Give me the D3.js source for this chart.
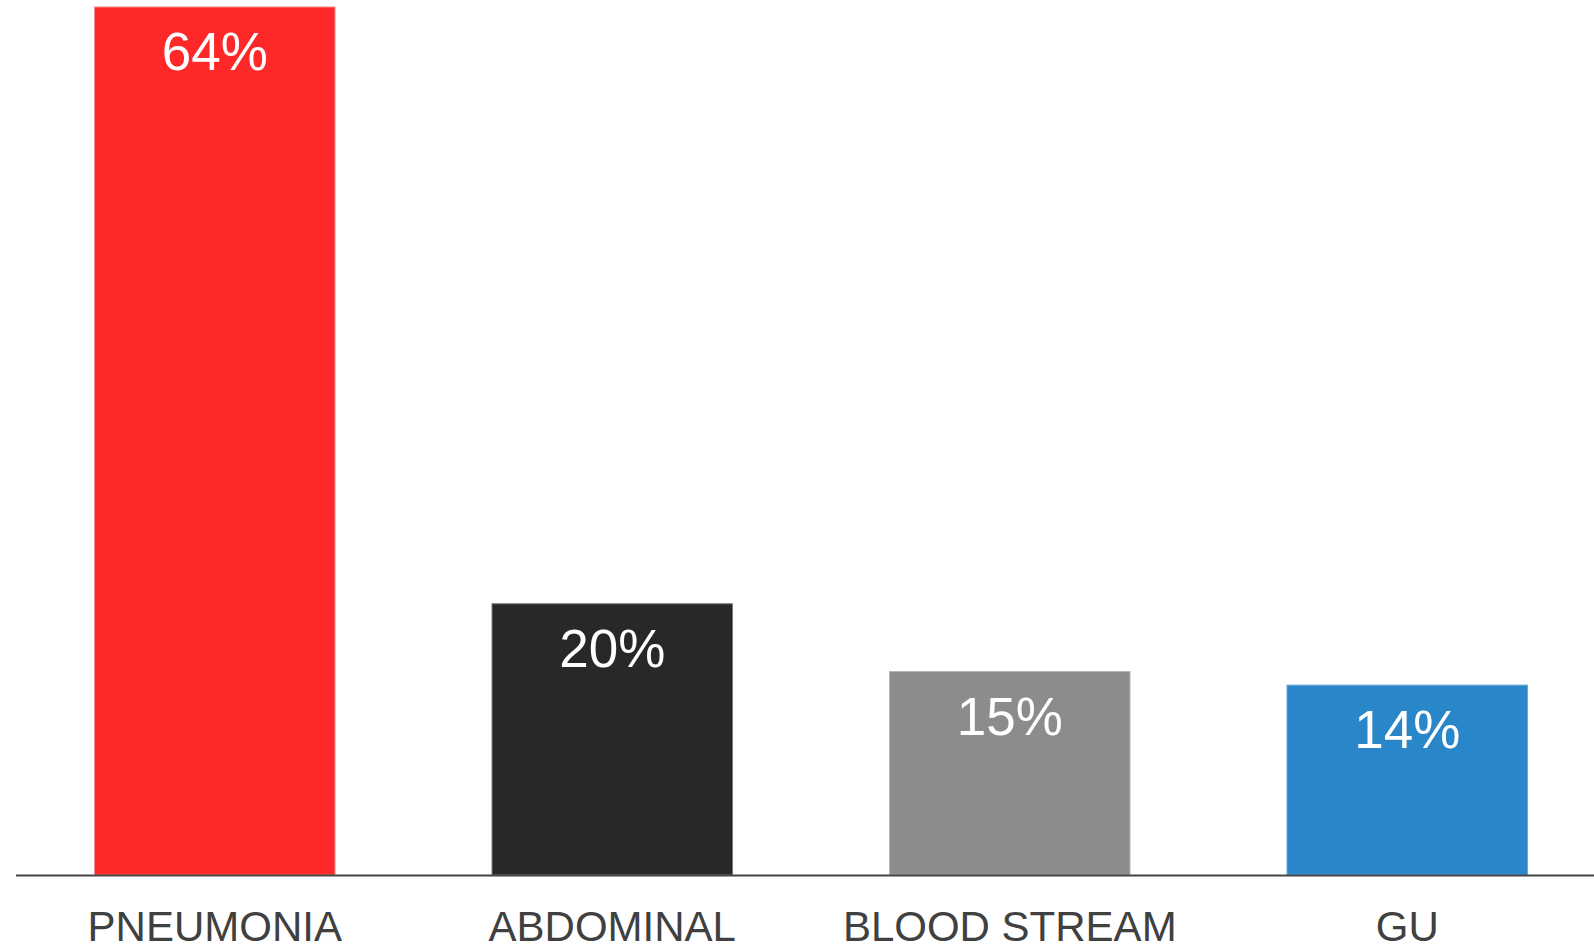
<!DOCTYPE html>
<html>
<head>
<meta charset="utf-8">
<script src="https://cdn.jsdelivr.net/npm/d3@7"></script>
<style>
  html, body { margin: 0; padding: 0; background: #ffffff; }
  svg { display: block; font-family: "Liberation Sans", Arial, sans-serif; }
</style>
</head>
<body>
<svg id="chart" width="1594" height="947"></svg>
<script>
// Share of infection sites (%)
const categories = ["PNEUMONIA", "ABDOMINAL", "BLOOD STREAM", "GU"];
const values = [64, 20, 15, 14];
const colors = ["#fe2828", "#282828", "#8c8c8c", "#2986c9"];
const borders = ["#f58a8a", "#7a7a7a", "#b4b4b4", "#6aa8d8"];

const svg = d3.select("#chart");
const baseline = 875;

const x = d3.scaleBand()
  .domain(categories)
  .range([16, 1606])
  .paddingInner(0.395)
  .paddingOuter(0.1975);

const y = d3.scaleLinear()
  .domain([0, 64])
  .range([baseline, 7]);

const data = categories.map((c, i) => ({ c, v: values[i], fill: colors[i], stroke: borders[i] }));

// Bars
svg.append("g").selectAll("rect")
  .data(data)
  .join("rect")
  .attr("x", d => x(d.c))
  .attr("y", d => y(d.v))
  .attr("width", x.bandwidth())
  .attr("height", d => baseline - y(d.v))
  .attr("fill", d => d.fill)
  .attr("stroke", d => d.stroke)
  .attr("stroke-width", 1);

// Value labels inside bars
svg.append("g").selectAll("text")
  .data(data)
  .join("text")
  .attr("x", d => x(d.c) + x.bandwidth() / 2)
  .attr("y", d => y(d.v) + 63)
  .attr("text-anchor", "middle")
  .attr("fill", "#ffffff")
  .attr("font-size", 53)
  .text(d => d.v + "%");

// Category axis
const axis = svg.append("g")
  .attr("transform", `translate(0,${baseline})`)
  .call(d3.axisBottom(x).tickSize(0).tickPadding(0));
axis.select(".domain").remove();
axis.selectAll("text")
  .attr("y", 66)
  .attr("dy", 0)
  .attr("font-size", 42)
  .attr("font-family", "Liberation Sans, Arial, sans-serif")
  .attr("fill", "#404040");

// Baseline rule
svg.append("line")
  .attr("x1", 16).attr("x2", 1594)
  .attr("y1", baseline + 0.5).attr("y2", baseline + 0.5)
  .attr("stroke", "#444444")
  .attr("stroke-width", 2);
</script>
</body>
</html>
